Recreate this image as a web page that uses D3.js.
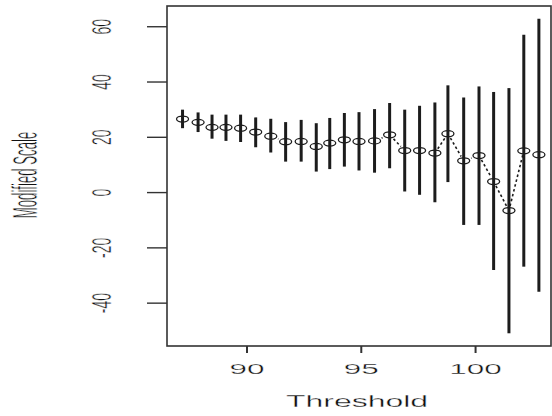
<!DOCTYPE html>
<html>
<head>
<meta charset="utf-8">
<script src="https://cdn.jsdelivr.net/npm/d3@7"></script>
<style>
  html, body { margin: 0; padding: 0; background: #fff; }
  svg { display: block; }
  text { font-family: "Liberation Sans", Arial, sans-serif; fill: #111; stroke: #fff; stroke-width: 0.28; }
</style>
</head>
<body>
<svg id="chart" width="552" height="416"></svg>
<script>
// Threshold values and the modified scale estimate with its interval bounds
const threshold = [87.18, 87.86, 88.47, 89.08, 89.72, 90.38, 91.04, 91.69, 92.37, 93.03,
                   93.62, 94.26, 94.9, 95.58, 96.24, 96.9, 97.55, 98.22, 98.79, 99.48,
                   100.15, 100.79, 101.46, 102.11, 102.77];
const estimate  = [26.6, 25.4, 23.6, 23.6, 23.3, 21.9, 20.4, 18.4, 18.5, 16.7,
                   17.9, 19.1, 18.5, 18.7, 20.9, 15.2, 15.2, 14.3, 21.3, 11.5,
                   13.4, 4.0, -6.5, 15.1, 13.7];
const upper     = [30.0, 29.0, 28.2, 28.2, 28.2, 27.2, 26.7, 25.5, 26.3, 25.1,
                   27.0, 28.8, 29.1, 30.2, 32.4, 30.0, 31.4, 32.6, 38.8, 34.4,
                   38.4, 36.4, 37.8, 57.1, 62.9];
const lower     = [23.3, 21.9, 19.5, 18.7, 18.3, 16.4, 14.5, 11.2, 11.2, 7.6,
                   8.5, 9.4, 8.0, 7.2, 8.8, 0.4, -0.8, -3.5, 3.8, -11.7,
                   -11.7, -28.0, -50.9, -26.8, -35.9];
const xTicks = [90, 95, 100];
const yTicks = [-40, -20, 0, 20, 40, 60];
const xTitle = "Threshold";
const yTitle = "Modified Scale";

const svg = d3.select("#chart");
const box = { left: 167, right: 551, top: 6, bottom: 346 };
// the whole figure is stretched horizontally relative to its text
const stretch = 2;

const x = d3.scaleLinear().domain([86.5, 103.3]).range([box.left, box.right]);
const y = d3.scaleLinear().domain([-55.5, 67.5]).range([box.bottom, box.top]);

const pts = threshold.map((t, i) => ({ t, est: estimate[i], lo: lower[i], hi: upper[i] }));

// interval bars
svg.append("g").selectAll("line").data(pts).join("line")
  .attr("x1", d => x(d.t)).attr("x2", d => x(d.t))
  .attr("y1", d => y(d.lo)).attr("y2", d => y(d.hi))
  .attr("stroke", "#1c1c1c").attr("stroke-width", 3);

// dotted connecting line with gaps around each point
const gap = 4.5;
const segs = [];
for (let i = 0; i < pts.length - 1; i++) {
  const x0 = x(pts[i].t), y0 = y(pts[i].est);
  const x1 = x(pts[i + 1].t), y1 = y(pts[i + 1].est);
  const dx = (x1 - x0) / stretch, dy = y1 - y0;
  const d = Math.hypot(dx, dy);
  if (d > 2 * gap) {
    const f = gap / d;
    segs.push([x0 + f * (x1 - x0), y0 + f * (y1 - y0), x1 - f * (x1 - x0), y1 - f * (y1 - y0)]);
  }
}
svg.append("g").selectAll("line").data(segs).join("line")
  .attr("x1", s => s[0]).attr("y1", s => s[1])
  .attr("x2", s => s[2]).attr("y2", s => s[3])
  .attr("stroke", "#1c1c1c").attr("stroke-width", 1.6)
  .attr("stroke-dasharray", "2.5,2.5");

// open point markers
svg.append("g").selectAll("ellipse").data(pts).join("ellipse")
  .attr("cx", d => x(d.t)).attr("cy", d => y(d.est))
  .attr("rx", 6).attr("ry", 3)
  .attr("fill", "none").attr("stroke", "#1c1c1c").attr("stroke-width", 1.3);

// plot frame
svg.append("rect")
  .attr("x", box.left).attr("y", box.top)
  .attr("width", box.right - box.left).attr("height", box.bottom - box.top)
  .attr("fill", "none").attr("stroke", "#333").attr("stroke-width", 1.6);

// x axis
const xAxis = svg.append("g");
xAxis.selectAll("line").data(xTicks).join("line")
  .attr("x1", d => x(d)).attr("x2", d => x(d))
  .attr("y1", box.bottom).attr("y2", box.bottom + 7)
  .attr("stroke", "#333").attr("stroke-width", 2);
xAxis.selectAll("text").data(xTicks).join("text")
  .attr("transform", d => `translate(${x(d)},374) scale(2.1,1)`)
  .attr("text-anchor", "middle").attr("font-size", 15)
  .text(d => d);
svg.append("text")
  .attr("transform", `translate(${(box.left + box.right) / 2 - 2},407) scale(${stretch},1)`)
  .attr("text-anchor", "middle").attr("font-size", 16)
  .text(xTitle);

// y axis
const yAxis = svg.append("g");
yAxis.selectAll("line").data(yTicks).join("line")
  .attr("x1", box.left - 20).attr("x2", box.left)
  .attr("y1", d => y(d)).attr("y2", d => y(d))
  .attr("stroke", "#333").attr("stroke-width", 1.4);
yAxis.selectAll("text").data(yTicks).join("text")
  .attr("transform", d => `translate(101,${y(d)}) scale(${stretch},1) rotate(-90)`)
  .attr("text-anchor", "middle").attr("dy", "0.35em").attr("font-size", 14)
  .text(d => d);
svg.append("text")
  .attr("transform", `translate(25,175) scale(2.6,1) rotate(-90)`)
  .attr("text-anchor", "middle").attr("dy", "0.35em").attr("font-size", 13.2)
  .text(yTitle);
</script>
</body>
</html>
